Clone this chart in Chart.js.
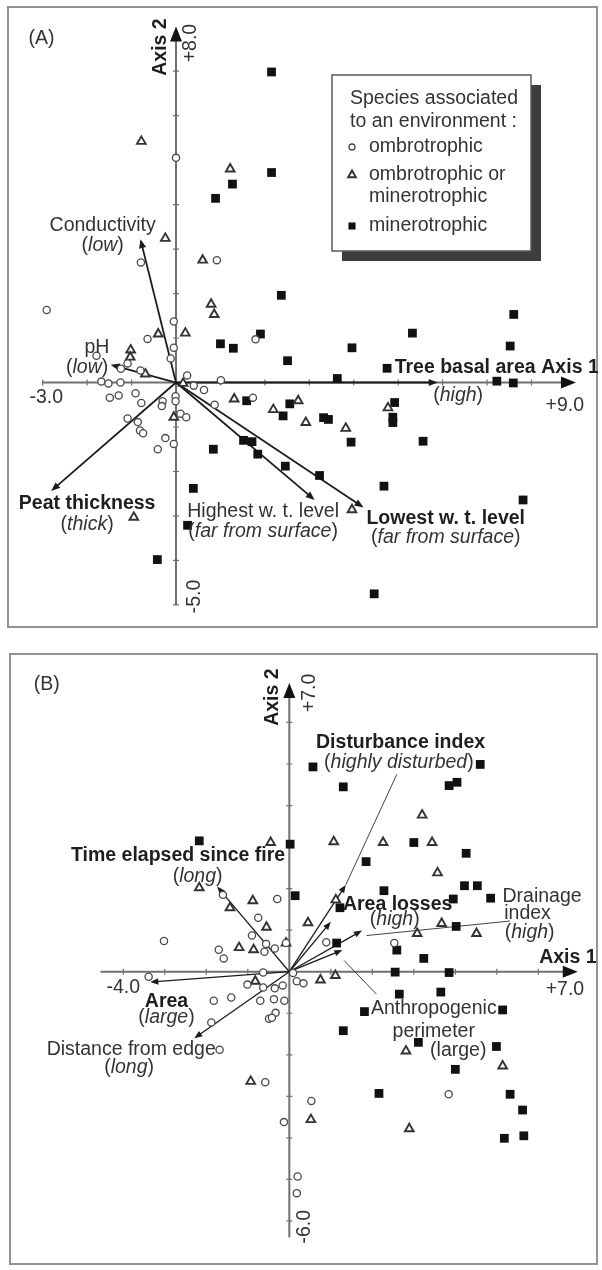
<!DOCTYPE html>
<html>
<head>
<meta charset="utf-8">
<script src="https://cdn.jsdelivr.net/npm/chart.js@4.4.1/dist/chart.umd.min.js"></script>
<style>
  body { margin: 0; background: #fff; width: 602px; height: 1270px; position: relative; overflow: hidden; }
  canvas { position: absolute; }
  #panelA { left: 7px; top: 6px; }
  #panelB { left: 9px; top: 653px; }
</style>
</head>
<body>
<canvas id="panelA" width="591" height="622"></canvas>
<canvas id="panelB" width="589" height="612"></canvas>
<script>
// ---- panel (A) species scores, axis 1 / axis 2
const ombroA = [
  [0, 5.05], [-0.79, 2.70], [0.92, 2.75], [-2.91, 1.63], [-0.05, 1.37], [-0.64, 0.98],
  [-0.05, 0.78], [-0.12, 0.54], [-1.79, 0.60], [-1.24, 0.31], [-1.09, 0.43], [-0.80, 0.27],
  [-1.68, 0.02], [-1.52, -0.02], [-1.25, 0], [0.25, 0.16], [0.40, -0.07], [0.63, -0.17],
  [1.01, 0.05], [-1.49, -0.34], [-1.29, -0.29], [-0.91, -0.24], [-0.78, -0.46], [-0.30, -0.42],
  [-0.32, -0.53], [-0.01, -0.31], [-0.01, -0.42], [0.87, -0.50], [0.10, -0.70], [0.23, -0.78],
  [-1.09, -0.81], [-0.86, -0.89], [-0.81, -1.08], [-0.74, -1.14], [-0.24, -1.25], [-0.05, -1.38],
  [-0.41, -1.50], [1.73, -0.34], [1.79, 0.97]
];
const mixedA = [
  [-0.78, 5.42], [1.22, 4.80], [-0.24, 3.24], [0.60, 2.75], [0.79, 1.76], [0.86, 1.53],
  [-0.40, 1.09], [0.21, 1.11], [-1.02, 0.73], [-1.03, 0.57], [-0.69, 0.19], [0.16, -0.02],
  [-0.05, -0.78], [1.31, -0.37], [2.19, -0.61], [2.75, -0.41], [2.92, -0.90], [3.82, -1.03],
  [4.77, -0.57], [3.96, -2.86], [-0.95, -3.03]
];
const mineroA = [
  [2.15, 6.98], [2.15, 4.72], [1.27, 4.46], [0.89, 4.14], [2.37, 1.96], [7.60, 1.53],
  [1.00, 0.87], [1.29, 0.77], [1.90, 1.09], [2.51, 0.49], [5.32, 1.11], [3.96, 0.78],
  [7.52, 0.82], [4.75, 0.32], [3.63, 0.09], [7.22, 0.03], [7.59, -0.01], [1.59, -0.41],
  [2.41, -0.75], [2.56, -0.48], [3.32, -0.79], [3.43, -0.83], [4.92, -0.45], [4.88, -0.78],
  [4.88, -0.90], [3.94, -1.34], [5.56, -1.32], [1.52, -1.30], [1.71, -1.33], [1.84, -1.61],
  [2.46, -1.88], [0.84, -1.50], [3.23, -2.09], [4.68, -2.33], [7.81, -2.64], [0.39, -2.38],
  [0.26, -3.21], [-0.42, -3.98], [4.46, -4.75]
];
// environmental vectors (arrow tips)
const vectorsA = [
  ['Conductivity', -0.80, 3.22],
  ['pH', -1.47, 0.40],
  ['Peat thickness', -2.81, -2.44],
  ['Highest w. t. level', 3.12, -2.64],
  ['Lowest w. t. level', 4.22, -2.81],
  ['Tree basal area', 5.89, 0]
];

// ---- panel (B)
const ombroB = [
  [-1.60, 1.85], [-0.29, 1.75], [-0.75, 1.30], [-0.90, 0.87], [-3.02, 0.74], [-1.70, 0.53],
  [-1.58, 0.32], [-0.56, 0.67], [-0.60, 0.48], [-0.35, 0.56], [-0.08, 0.69], [0.89, 0.71],
  [2.53, 0.69], [-0.63, -0.02], [0.09, -0.03], [-3.39, -0.12], [-1.01, -0.31], [-0.63, -0.38],
  [-0.35, -0.40], [-0.16, -0.33], [0.18, -0.23], [0.34, -0.28], [-1.82, -0.70], [-1.40, -0.62],
  [-0.70, -0.70], [-0.37, -0.66], [-0.12, -0.70], [-0.33, -0.99], [-0.49, -1.13], [-0.42, -1.11],
  [-1.88, -1.22], [-1.68, -1.88], [-0.58, -2.66], [-0.13, -3.62], [0.53, -3.11], [3.84, -2.95],
  [0.20, -4.93], [0.18, -5.33]
];
const mixedB = [
  [-0.45, 3.11], [1.07, 3.13], [-2.17, 2.02], [-1.43, 1.54], [-0.88, 1.71], [-0.55, 1.07],
  [0.45, 1.18], [1.12, 1.73], [-1.21, 0.58], [-0.86, 0.53], [-0.08, 0.69], [-0.82, -0.23],
  [0.75, -0.20], [1.11, -0.09], [3.20, 3.77], [2.26, 3.11], [3.44, 3.11], [3.57, 2.38],
  [3.67, 1.16], [3.08, 0.92], [4.51, 0.92], [2.81, -1.91], [5.14, -2.27], [0.52, -3.56],
  [2.89, -3.78], [-0.93, -2.64]
];
const mineroB = [
  [-2.17, 3.15], [0.02, 3.07], [0.14, 1.83], [1.22, 1.54], [1.14, 0.69], [0.57, 4.93],
  [4.60, 4.99], [1.30, 4.45], [3.85, 4.48], [4.04, 4.56], [3.00, 3.11], [4.26, 2.85],
  [1.85, 2.65], [4.22, 2.07], [4.53, 2.07], [2.28, 1.95], [3.95, 1.75], [4.85, 1.77],
  [4.02, 1.09], [2.59, 0.52], [3.24, 0.32], [2.55, -0.01], [3.85, -0.02], [2.65, -0.54],
  [3.65, -0.49], [1.81, -0.96], [5.14, -0.92], [1.30, -1.42], [3.11, -1.70], [4.99, -1.80],
  [4.00, -2.35], [2.16, -2.93], [5.32, -2.95], [5.62, -3.33], [5.18, -4.01], [5.65, -3.95]
];
const vectorsB = [
  ['Disturbance index', 1.36, 2.09],
  ['Area losses', 1.00, 1.20],
  ['Drainage index', 1.75, 0.99],
  ['Anthropogenic perimeter', 1.28, 0.52],
  ['Time elapsed since fire', -1.74, 2.05],
  ['Area', -3.35, -0.25],
  ['Distance from edge', -2.29, -1.60]
];
// thin leader lines from arrows to their labels
const leadersB = [
  [1.36, 2.09, 2.59, 4.75],
  [1.86, 0.87, 5.32, 1.22],
  [1.32, 0.27, 2.10, -0.54]
];

// text annotations (data coordinates); *...* = italic
const labelsA = [
  { t: '(A)', x: -3.32, y: 7.74, a: 'left' },
  { t: 'Axis 2', x: -0.35, y: 7.54, b: true, r: -90 },
  { t: '+8.0', x: 0.33, y: 7.63, r: -90 },
  { t: '-5.0', x: 0.42, y: -4.81, r: -90 },
  { t: '-3.0', x: -2.92, y: -0.35 },
  { t: '+9.0', x: 8.75, y: -0.51 },
  { t: 'Axis 1', x: 8.22, y: 0.33, b: true, a: 'left' },
  { t: 'Conductivity', x: -1.65, y: 3.52 },
  { t: '(*low*)', x: -1.65, y: 3.08 },
  { t: 'pH', x: -1.78, y: 0.79 },
  { t: '(*low*)', x: -2.0, y: 0.33 },
  { t: 'Peat thickness', x: -2.0, y: -2.73, b: true },
  { t: '(*thick*)', x: -2.0, y: -3.19 },
  { t: 'Highest w. t. level', x: 1.96, y: -2.90 },
  { t: '(*far from surface*)', x: 1.96, y: -3.36 },
  { t: 'Lowest w. t. level', x: 6.07, y: -3.05, b: true },
  { t: '(*far from surface*)', x: 6.07, y: -3.49 },
  { t: 'Tree basal area', x: 4.92, y: 0.33, b: true, a: 'left' },
  { t: '(*high*)', x: 6.35, y: -0.29 }
];
const labelsB = [
  { t: '(B)', x: -6.16, y: 6.92, a: 'left' },
  { t: 'Axis 2', x: -0.40, y: 6.61, b: true, r: -90 },
  { t: '+7.0', x: 0.49, y: 6.71, r: -90 },
  { t: '-6.0', x: 0.38, y: -6.14, r: -90 },
  { t: '-4.0', x: -4.0, y: -0.38 },
  { t: '+7.0', x: 6.64, y: -0.42 },
  { t: 'Axis 1', x: 6.02, y: 0.33, b: true, a: 'left' },
  { t: 'Disturbance index', x: 2.68, y: 5.51, b: true },
  { t: '(*highly disturbed*)', x: 2.64, y: 5.04 },
  { t: 'Time elapsed since fire', x: -2.68, y: 2.80, b: true },
  { t: '(*long*)', x: -2.21, y: 2.28 },
  { t: 'Area losses', x: 2.61, y: 1.62, b: true },
  { t: '(*high*)', x: 2.54, y: 1.25 },
  { t: 'Drainage', x: 6.09, y: 1.81 },
  { t: 'index', x: 5.74, y: 1.39 },
  { t: '(*high*)', x: 5.79, y: 0.94 },
  { t: 'Anthropogenic', x: 3.48, y: -0.89 },
  { t: 'perimeter', x: 3.48, y: -1.44 },
  { t: '(large)', x: 4.07, y: -1.91 },
  { t: 'Area', x: -2.96, y: -0.71, b: true },
  { t: '(*large*)', x: -2.96, y: -1.11 },
  { t: 'Distance from edge', x: -3.81, y: -1.88 },
  { t: '(*long*)', x: -3.86, y: -2.31 }
];

const FONT = '"Liberation Sans", Arial, sans-serif';
Chart.defaults.font.family = FONT;

function drawRich(ctx, str, x, y, bold, align, rot) {
  const parts = str.split('*');
  const fontFor = i => (i % 2 ? 'italic ' : '') + (bold ? 'bold ' : '') + '19.5px ' + FONT;
  let w = 0;
  parts.forEach((p, i) => { ctx.font = fontFor(i); w += ctx.measureText(p).width; });
  ctx.save();
  ctx.translate(x, y);
  if (rot) ctx.rotate(rot * Math.PI / 180);
  let cx = align === 'left' ? 0 : -w / 2;
  ctx.textBaseline = 'middle';
  ctx.textAlign = 'left';
  parts.forEach((p, i) => {
    ctx.font = fontFor(i);
    ctx.fillText(p, cx, 0);
    cx += ctx.measureText(p).width;
  });
  ctx.restore();
}

function drawArrow(ctx, x0, y0, x1, y1, head) {
  const a = Math.atan2(y1 - y0, x1 - x0);
  const c = Math.cos(a), s = Math.sin(a);
  ctx.beginPath();
  ctx.moveTo(x0, y0);
  ctx.lineTo(x1 - c * head * 0.7, y1 - s * head * 0.7);
  ctx.stroke();
  ctx.beginPath();
  ctx.moveTo(x1, y1);
  ctx.lineTo(x1 - head * c + head * 0.4 * s, y1 - head * s - head * 0.4 * c);
  ctx.lineTo(x1 - head * c - head * 0.4 * s, y1 - head * s + head * 0.4 * c);
  ctx.closePath();
  ctx.fill();
}

const biplot = {
  id: 'biplot',
  beforeDatasetsDraw(chart, args, o) {
    const ctx = chart.ctx, sx = chart.scales.x, sy = chart.scales.y;
    const px = v => sx.getPixelForValue(v), py = v => sy.getPixelForValue(v);
    const x0 = px(0), y0 = py(0);
    ctx.save();
    // frame
    ctx.strokeStyle = '#939393';
    ctx.lineWidth = 2;
    ctx.strokeRect(1, 1, chart.width - 2, chart.height - 2);
    // axes
    ctx.strokeStyle = '#707070';
    ctx.lineWidth = 2;
    ctx.beginPath();
    ctx.moveTo(px(o.xAxis[0]), y0); ctx.lineTo(px(o.xAxis[1]) - 10, y0);
    ctx.moveTo(x0, py(o.yAxis[0])); ctx.lineTo(x0, py(o.yAxis[1]) + 10);
    ctx.stroke();
    ctx.lineWidth = 1.2;
    ctx.beginPath();
    for (let t = Math.ceil(o.xAxis[0]); t < o.xAxis[1] - 0.5; t++) {
      if (t === 0) continue;
      ctx.moveTo(px(t), y0 - 3); ctx.lineTo(px(t), y0 + 3);
    }
    for (let t = Math.ceil(o.yAxis[0]); t < o.yAxis[1] - 0.5; t++) {
      if (t === 0) continue;
      ctx.moveTo(x0 - 3, py(t)); ctx.lineTo(x0 + 3, py(t));
    }
    ctx.stroke();
    // axis arrowheads
    ctx.fillStyle = '#111';
    const xt = px(o.xAxis[1]), yt = py(o.yAxis[1]);
    ctx.beginPath();
    ctx.moveTo(xt, y0); ctx.lineTo(xt - 15, y0 - 6); ctx.lineTo(xt - 15, y0 + 6); ctx.closePath();
    ctx.moveTo(x0, yt); ctx.lineTo(x0 - 6, yt + 15); ctx.lineTo(x0 + 6, yt + 15); ctx.closePath();
    ctx.fill();
    // environmental vectors
    ctx.strokeStyle = '#1c1c1c';
    ctx.fillStyle = '#1c1c1c';
    ctx.lineWidth = o.vecWidth;
    o.vectors.forEach(v => drawArrow(ctx, x0, y0, px(v[1]), py(v[2]), o.head));
    ctx.strokeStyle = '#444';
    ctx.lineWidth = 1;
    (o.leaders || []).forEach(l => {
      ctx.beginPath();
      ctx.moveTo(px(l[0]), py(l[1]));
      ctx.lineTo(px(l[2]), py(l[3]));
      ctx.stroke();
    });
    ctx.restore();
  },
  afterDatasetsDraw(chart, args, o) {
    const ctx = chart.ctx, sx = chart.scales.x, sy = chart.scales.y;
    ctx.save();
    o.labels.forEach(l => {
      ctx.fillStyle = l.b ? '#1e1e1e' : '#333';
      drawRich(ctx, l.t, sx.getPixelForValue(l.x), sy.getPixelForValue(l.y), l.b, l.a, l.r);
    });
    const L = o.legend;
    if (L) {
      ctx.fillStyle = '#3d3d3d';
      ctx.fillRect(L.left + 10, L.top + 10, L.width, L.height);
      ctx.fillStyle = '#fff';
      ctx.fillRect(L.left, L.top, L.width, L.height);
      ctx.strokeStyle = '#5a5a5a';
      ctx.lineWidth = 1.5;
      ctx.strokeRect(L.left, L.top, L.width, L.height);
      ctx.fillStyle = '#333';
      L.title.forEach((t, i) => drawRich(ctx, t, L.left + 18, L.top + L.titleRows[i], false, 'left'));
      chart.data.datasets.forEach((ds, i) => {
        ctx.fillStyle = ds.backgroundColor;
        ctx.strokeStyle = ds.borderColor;
        ctx.lineWidth = ds.borderWidth;
        Chart.helpers.drawPoint(ctx, {
          pointStyle: ds.pointStyle, radius: L.markerR[i], rotation: 0, borderWidth: ds.borderWidth
        }, L.left + 20, L.top + L.rows[i]);
        ctx.fillStyle = '#333';
        ds.label.split('\n').forEach((line, j) =>
          drawRich(ctx, line, L.left + 37, L.top + L.rows[i] + j * 22, false, 'left'));
      });
    }
    ctx.restore();
  }
};

function pts(arr) { return arr.map(p => ({ x: p[0], y: p[1] })); }

function makePanel(id, groups, range, extra) {
  new Chart(document.getElementById(id), {
    type: 'scatter',
    data: {
      datasets: [
        { label: 'ombrotrophic', data: pts(groups[0]), pointStyle: 'circle', pointRadius: 3.6,
          backgroundColor: '#fff', borderColor: '#4a4a4a', borderWidth: 1.3, clip: false },
        { label: 'ombrotrophic or\nminerotrophic', data: pts(groups[1]), pointStyle: 'triangle', pointRadius: 5,
          backgroundColor: '#fff', borderColor: '#333', borderWidth: 1.9, clip: false },
        { label: 'minerotrophic', data: pts(groups[2]), pointStyle: 'rect', pointRadius: 6.2,
          backgroundColor: '#111', borderColor: '#111', borderWidth: 0, clip: false }
      ]
    },
    options: {
      responsive: false,
      animation: false,
      events: [],
      layout: { padding: 0 },
      plugins: {
        legend: { display: false },
        tooltip: { enabled: false },
        biplot: extra
      },
      scales: {
        x: { type: 'linear', display: false, bounds: 'data', min: range[0], max: range[1] },
        y: { type: 'linear', display: false, bounds: 'data', min: range[2], max: range[3] }
      }
    },
    plugins: [biplot]
  });
}

makePanel('panelA', [ombroA, mixedA, mineroA], [-3.648, 9.341, -5.363, 8.308], {
  xAxis: [-3, 9], yAxis: [-5, 8],
  vectors: vectorsA, vecWidth: 1.8, head: 9,
  labels: labelsA,
  legend: {
    left: 325, top: 69, width: 199, height: 176,
    title: ['Species associated', 'to an environment :'], titleRows: [24, 47],
    rows: [72, 100, 151], markerR: [3, 4.5, 5]
  }
});

makePanel('panelB', [ombroB, mixedB, mineroB], [-6.588, 7.271, -6.894, 7.506], {
  xAxis: [-4.55, 6.95], yAxis: [-6.4, 6.95],
  vectors: vectorsB, vecWidth: 1.3, head: 8,
  leaders: leadersB,
  labels: labelsB
});
</script>
</body>
</html>
